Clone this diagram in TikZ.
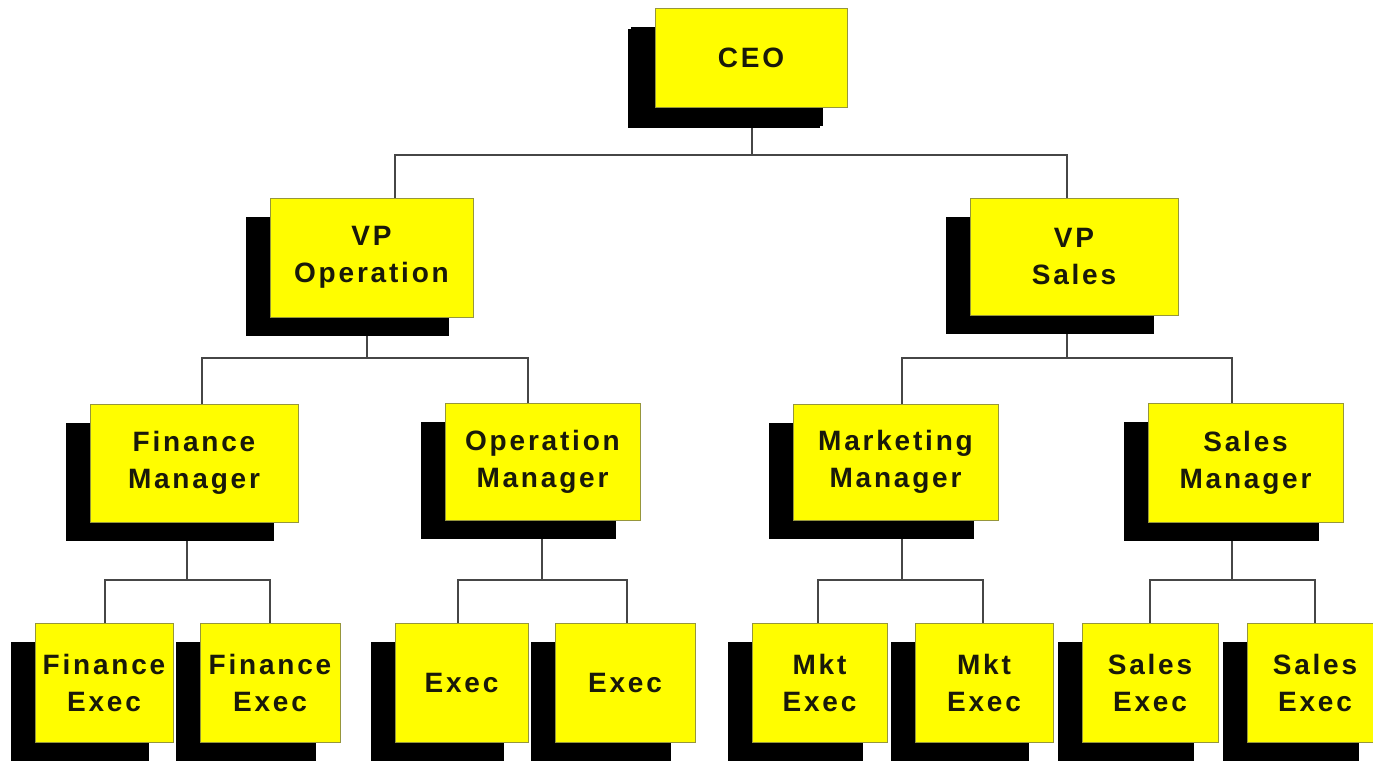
\documentclass[tikz,border=0pt]{standalone}
\usepackage{fontspec}
\setmainfont{Liberation Sans}
\newfontfamily\boxfont[LetterSpace=10]{Liberation Sans}
\usetikzlibrary{shadows}
\pgfdeclarelayer{bg}
\pgfsetlayers{bg,main}
\definecolor{cardyellow}{RGB}{255,253,0}
\definecolor{cardedge}{RGB}{150,150,60}
\definecolor{linegray}{RGB}{70,70,70}
\definecolor{inktext}{RGB}{25,25,10}
\tikzset{
  card/.style={rectangle, fill=cardyellow, draw=cardedge, line width=0.8pt,
    inner sep=0pt, align=center, text=inktext,
    font=\boxfont\bfseries\fontsize{28}{37}\selectfont,
    drop shadow={shadow xshift=-24pt, shadow yshift=-19pt, opacity=1, fill=black}},
  wire/.style={draw=linegray, line width=2pt}
}
\begin{document}
\begin{tikzpicture}[x=1pt,y=-1pt]
\useasboundingbox (0,0) rectangle (1373,761);
\begin{pgfonlayer}{bg}
\fill[white] (0,0) rectangle (1373,761);
\end{pgfonlayer}

% level 1
\node[card, minimum width=192pt, minimum height=99pt,
  drop shadow={shadow xshift=-27pt, shadow yshift=-21pt, opacity=1, fill=black}] (ceo) at (751,57.5) {CEO};
% level 2
\node[card, minimum width=203pt, minimum height=119pt] (vpo) at (371.5,257.5) {VP\\Operation};
\node[card, minimum width=208pt, minimum height=117pt] (vps) at (1074,256.5) {VP\\Sales};
% level 3
\node[card, minimum width=208pt, minimum height=118pt] (fm) at (194,463) {Finance\\Manager};
\node[card, minimum width=195pt, minimum height=117pt] (om) at (542.5,461.5) {Operation\\Manager};
\node[card, minimum width=205pt, minimum height=116pt] (mm) at (895.5,462) {Marketing\\Manager};
\node[card, minimum width=195pt, minimum height=119pt] (sm) at (1245.5,462.5) {Sales\\Manager};
% level 4
\node[card, minimum width=138pt, minimum height=119pt] (fe1) at (104,682.5) {Finance\\Exec};
\node[card, minimum width=140pt, minimum height=119pt] (fe2) at (270,682.5) {Finance\\Exec};
\node[card, minimum width=133pt, minimum height=119pt] (e1) at (461.5,682.5) {Exec};
\node[card, minimum width=140pt, minimum height=119pt] (e2) at (625,682.5) {Exec};
\node[card, minimum width=135pt, minimum height=119pt] (me1) at (819.5,682.5) {Mkt\\Exec};
\node[card, minimum width=138pt, minimum height=119pt] (me2) at (984,682.5) {Mkt\\Exec};
\node[card, minimum width=136pt, minimum height=119pt] (se1) at (1150,682.5) {Sales\\Exec};
\node[card, minimum width=136pt, minimum height=119pt] (se2) at (1315,682.5) {Sales\\Exec};

% junctions
\coordinate (j1) at (752,155);
\coordinate (j2) at (367,358);
\coordinate (j3) at (1067,358);
\coordinate (j4) at (187,580);
\coordinate (j5) at (542,580);
\coordinate (j6) at (902,580);
\coordinate (j7) at (1232,580);

\begin{pgfonlayer}{bg}
\draw[wire] ([xshift=1pt]ceo.south) -- (j1);
\draw[wire] ([xshift=23.5pt]vpo.north) |- (j1) -| ([xshift=-7pt]vps.north);

\draw[wire] ([xshift=-4.5pt]vpo.south) -- (j2);
\draw[wire] ([xshift=8pt]fm.north) |- (j2) -| ([xshift=-14.5pt]om.north);
\draw[wire] ([xshift=-7pt]vps.south) -- (j3);
\draw[wire] ([xshift=6.5pt]mm.north) |- (j3) -| ([xshift=-13.5pt]sm.north);

\draw[wire] ([xshift=-7pt]fm.south) -- (j4);
\draw[wire] ([xshift=1pt]fe1.north) |- (j4) -| (fe2.north);
\draw[wire] ([xshift=-0.5pt]om.south) -- (j5);
\draw[wire] ([xshift=-3.5pt]e1.north) |- (j5) -| ([xshift=2pt]e2.north);
\draw[wire] ([xshift=6.5pt]mm.south) -- (j6);
\draw[wire] ([xshift=-1.5pt]me1.north) |- (j6) -| ([xshift=-1pt]me2.north);
\draw[wire] ([xshift=-13.5pt]sm.south) -- (j7);
\draw[wire] (se1.north) |- (j7) -| (se2.north);
\end{pgfonlayer}
\end{tikzpicture}
\end{document}
